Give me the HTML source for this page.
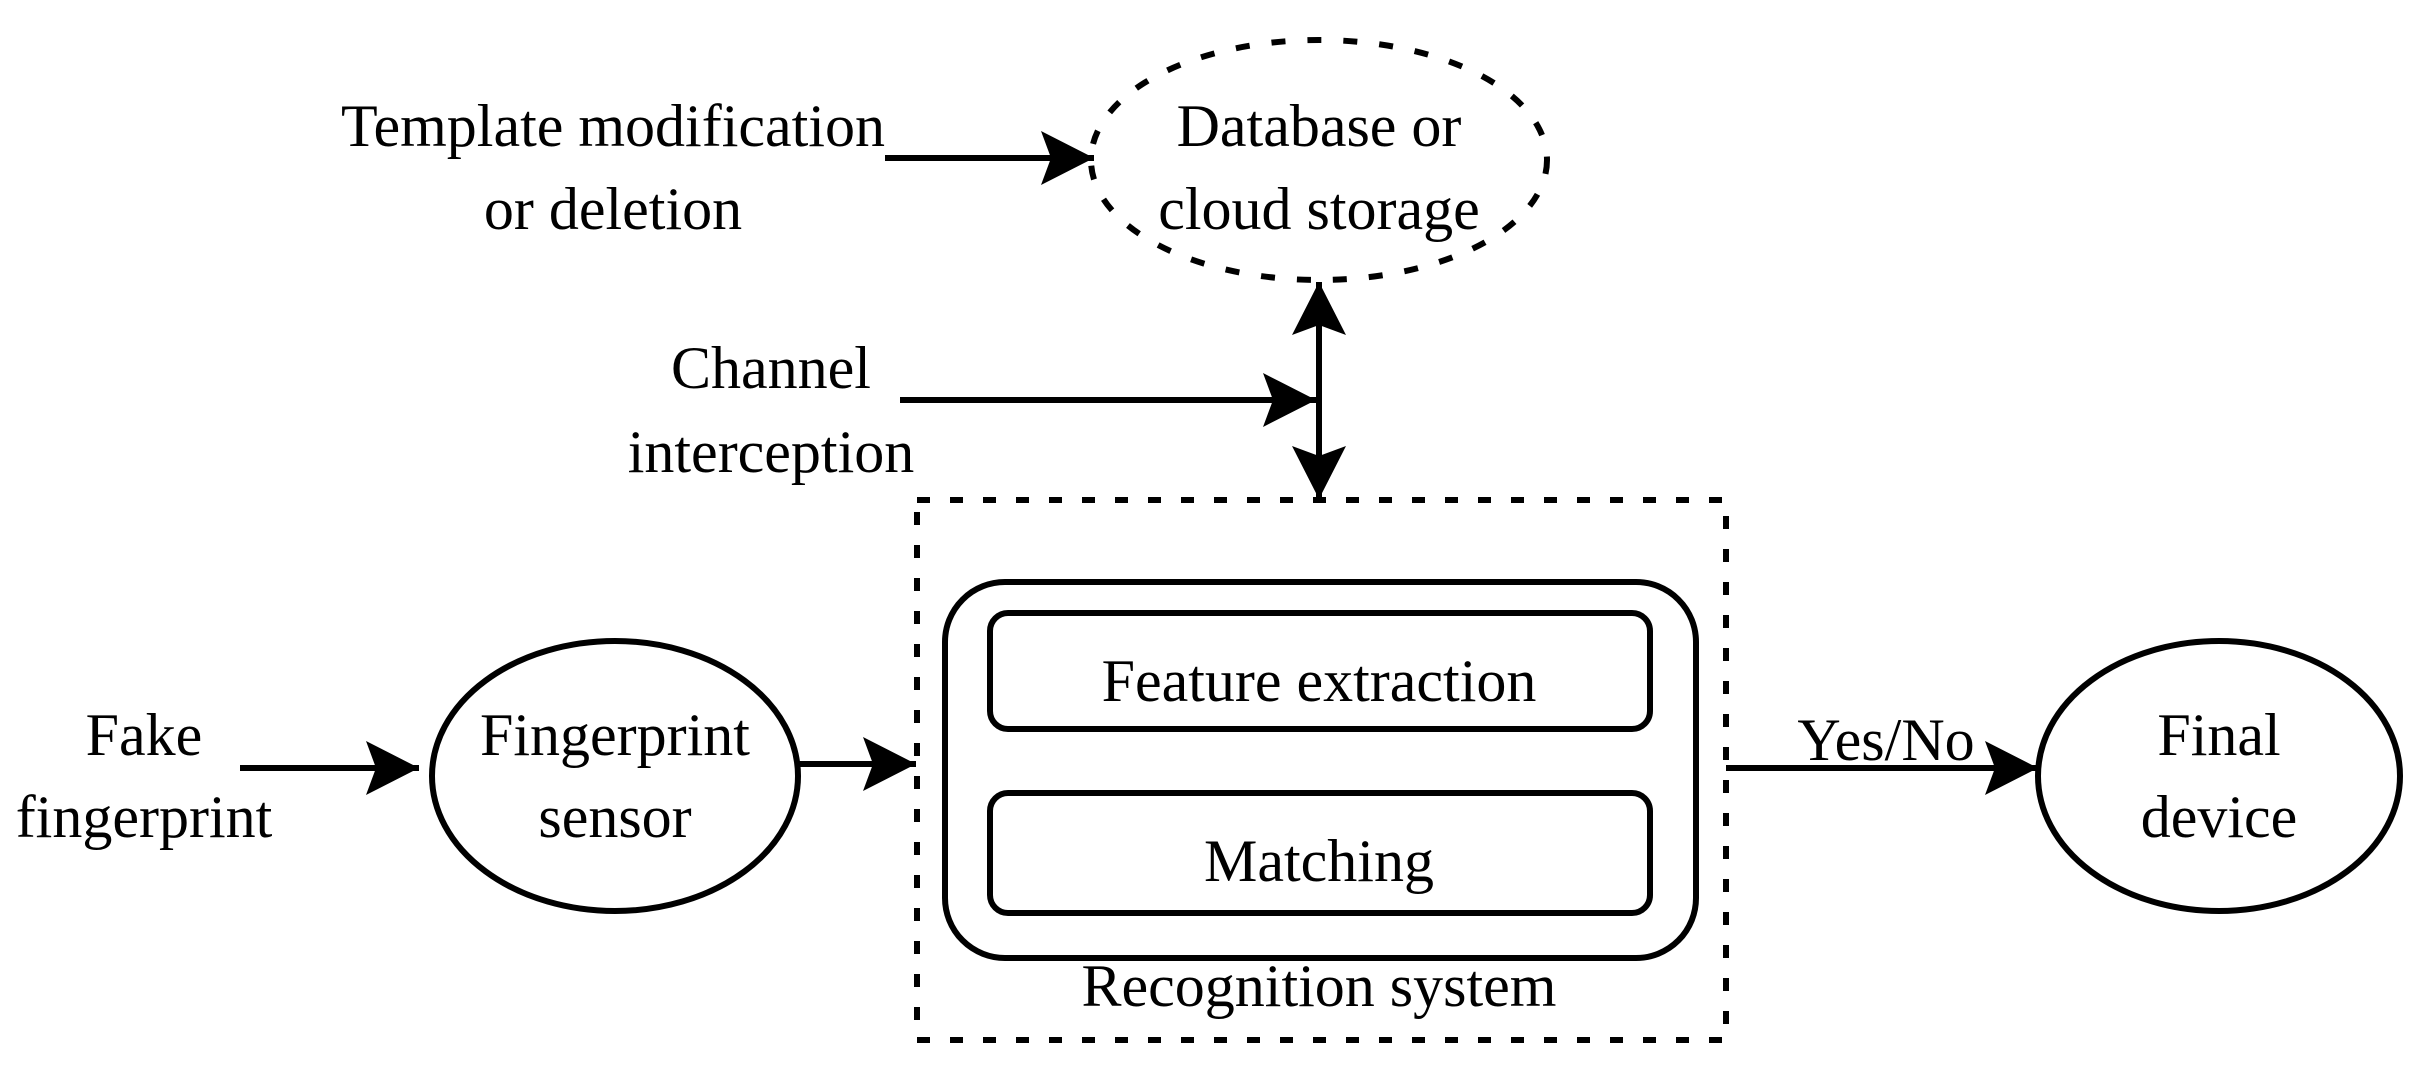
<!DOCTYPE html>
<html><head><meta charset="utf-8"><style>html,body{margin:0;padding:0;background:#fff}</style></head>
<body>
<svg width="2433" height="1078" viewBox="0 0 2433 1078" xmlns="http://www.w3.org/2000/svg" font-family="Liberation Serif, serif" font-size="60" text-anchor="middle">
<defs>
<marker id="a" markerUnits="userSpaceOnUse" markerWidth="60" markerHeight="60" refX="53" refY="27" orient="auto-start-reverse">
<path d="M0,0 L53,27 L0,54 L10,27 Z" fill="#000"/>
</marker>
</defs>
<g fill="none" stroke="#000" stroke-width="6">
<ellipse cx="1319" cy="160" rx="228" ry="120" stroke-dasharray="14,22"/>
<rect x="917" y="500" width="809" height="540" stroke-dasharray="13,20"/>
<rect x="945" y="582" width="751" height="376" rx="60"/>
<rect x="990" y="613" width="660" height="116" rx="18"/>
<rect x="990" y="793" width="660" height="120" rx="18"/>
<ellipse cx="615" cy="776" rx="183" ry="135"/>
<ellipse cx="2219" cy="776" rx="181" ry="135"/>
<line x1="885" y1="158" x2="1094" y2="158" marker-end="url(#a)"/>
<line x1="1319" y1="282" x2="1319" y2="499" marker-start="url(#a)" marker-end="url(#a)"/>
<line x1="900" y1="400" x2="1316" y2="400" marker-end="url(#a)"/>
<line x1="240" y1="768" x2="419" y2="768" marker-end="url(#a)"/>
<line x1="795" y1="764" x2="916" y2="764" marker-end="url(#a)"/>
<line x1="1726" y1="768" x2="2038" y2="768" marker-end="url(#a)"/>
</g>
<g fill="#000">
<text x="613" y="146">Template modification</text>
<text x="613" y="229">or deletion</text>
<text x="1319" y="146">Database or</text>
<text x="1319" y="229">cloud storage</text>
<text x="771" y="388">Channel</text>
<text x="771" y="472">interception</text>
<text x="1319" y="701">Feature extraction</text>
<text x="1319" y="881">Matching</text>
<text x="1319" y="1006">Recognition system</text>
<text x="144" y="755">Fake</text>
<text x="144" y="837">fingerprint</text>
<text x="615" y="755">Fingerprint</text>
<text x="615" y="837">sensor</text>
<text x="1886" y="760">Yes/No</text>
<text x="2219" y="755">Final</text>
<text x="2219" y="837">device</text>
</g>
</svg>
</body></html>
